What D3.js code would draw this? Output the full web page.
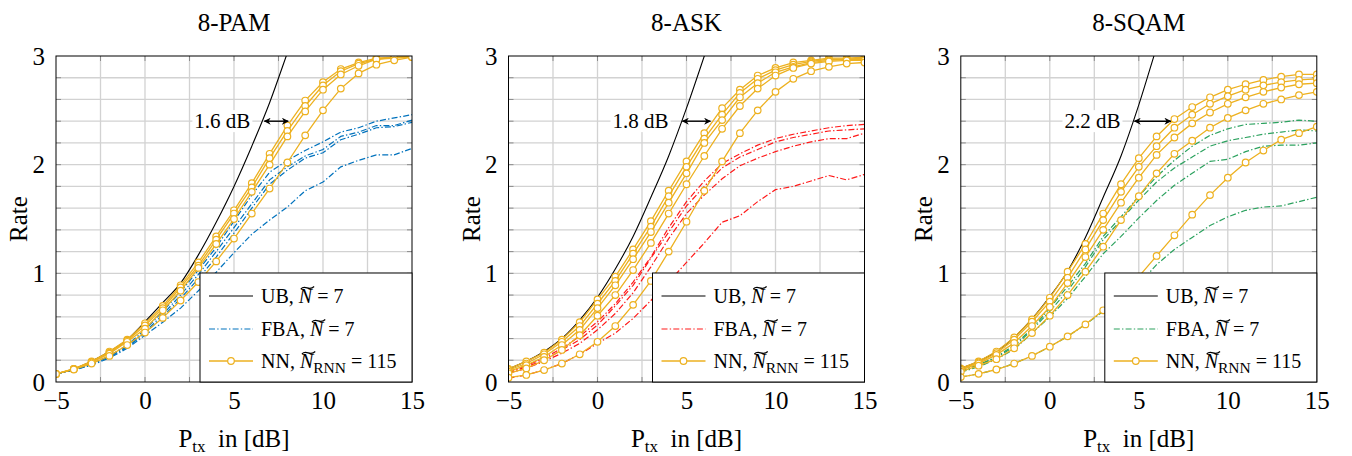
<!DOCTYPE html>
<html>
<head>
<meta charset="utf-8">
<script src="https://cdn.jsdelivr.net/npm/d3@7"></script>
<style>
  body { margin: 0; background: #fff; }
  svg, svg text { font-family: 'Liberation Serif', Tinos, 'Times New Roman', Times, 'DejaVu Serif', serif; }
</style>
</head>
<body>
<svg id="chart" width="1352" height="456"></svg>
<script>
const width = 1352
const height = 456
const serif = "'Liberation Serif', Tinos, 'Times New Roman', Times, 'DejaVu Serif', serif"

// transmit power grid (dB) used by every measured curve
const ptx = [-5, -4, -3, -2, -1, 0, 1, 2, 3, 4, 5, 6, 7, 8, 9, 10, 11, 12, 13, 14, 15]

const titles = ['8-PAM', '8-ASK', '8-SQAM']
const gapLabels = ['1.6 dB', '1.8 dB', '2.2 dB']
// arrow from UB to best NN curve at rate 2.4
const gapStart = [6.65, 4.72, 4.70]
const gapEnd = [8.1, 6.4, 6.85]
const gapRate = 2.4

// upper bound, clipped at the top of the plot
const ubPtx = [-5, -4, -3, -2, -1, 0, 1, 2, 3, 4, 5, 6, 7, 8, 9]
const ubPam = [0.075, 0.12, 0.19, 0.28, 0.39, 0.555, 0.73, 0.91, 1.17, 1.47, 1.80, 2.17, 2.57, 3.03, 3.5]
const ubAsk = [0.12, 0.19, 0.28, 0.40, 0.57, 0.78, 1.04, 1.34, 1.70, 2.08, 2.52, 3.0, 3.5, 4.0, 4.5]
const ubSqam = [0.125, 0.19, 0.28, 0.41, 0.58, 0.785, 1.02, 1.33, 1.70, 2.08, 2.55, 3.08, 3.6, 4.1, 4.6]

const fbaPam = [
  [0.074, 0.115, 0.17, 0.24, 0.34, 0.48, 0.65, 0.83, 1.03, 1.24, 1.48, 1.72, 1.93, 2.04, 2.13, 2.21, 2.30, 2.34, 2.40, 2.43, 2.46],
  [0.074, 0.115, 0.165, 0.235, 0.33, 0.46, 0.62, 0.80, 0.99, 1.20, 1.42, 1.64, 1.86, 1.98, 2.08, 2.14, 2.26, 2.30, 2.36, 2.36, 2.41],
  [0.074, 0.11, 0.16, 0.23, 0.32, 0.45, 0.60, 0.77, 0.95, 1.15, 1.37, 1.60, 1.82, 1.95, 2.06, 2.11, 2.23, 2.28, 2.34, 2.35, 2.39],
  [0.074, 0.11, 0.155, 0.22, 0.31, 0.43, 0.55, 0.68, 0.84, 1.01, 1.19, 1.36, 1.49, 1.61, 1.76, 1.84, 1.98, 2.04, 2.09, 2.09, 2.15]
]
const nnPam = [
  [0.074, 0.12, 0.19, 0.28, 0.39, 0.54, 0.70, 0.89, 1.10, 1.34, 1.58, 1.83, 2.10, 2.36, 2.59, 2.76, 2.88, 2.94, 2.98, 2.99, 2.995],
  [0.074, 0.12, 0.185, 0.27, 0.38, 0.52, 0.68, 0.87, 1.07, 1.31, 1.55, 1.79, 2.06, 2.31, 2.54, 2.73, 2.86, 2.93, 2.97, 2.99, 2.99],
  [0.074, 0.118, 0.18, 0.26, 0.37, 0.49, 0.66, 0.84, 1.05, 1.27, 1.50, 1.75, 2.00, 2.26, 2.49, 2.69, 2.83, 2.91, 2.97, 2.98, 2.99],
  [0.074, 0.115, 0.17, 0.24, 0.34, 0.455, 0.59, 0.75, 0.92, 1.11, 1.32, 1.55, 1.78, 2.02, 2.27, 2.50, 2.70, 2.84, 2.92, 2.96, 2.99]
]

const fbaAsk = [
  [0.095, 0.15, 0.22, 0.31, 0.42, 0.555, 0.72, 0.92, 1.15, 1.42, 1.66, 1.85, 2.01, 2.10, 2.18, 2.24, 2.28, 2.31, 2.34, 2.36, 2.37],
  [0.085, 0.14, 0.20, 0.295, 0.39, 0.525, 0.70, 0.89, 1.14, 1.38, 1.62, 1.80, 1.97, 2.07, 2.14, 2.21, 2.25, 2.28, 2.31, 2.32, 2.33],
  [0.08, 0.125, 0.19, 0.265, 0.355, 0.48, 0.63, 0.82, 1.06, 1.32, 1.55, 1.72, 1.87, 1.99, 2.06, 2.12, 2.17, 2.21, 2.24, 2.24, 2.29],
  [0.035, 0.065, 0.11, 0.17, 0.255, 0.355, 0.45, 0.585, 0.75, 0.92, 1.10, 1.28, 1.47, 1.53, 1.66, 1.77, 1.80, 1.85, 1.90, 1.86, 1.91]
]
const nnAsk = [
  [0.12, 0.19, 0.27, 0.39, 0.55, 0.76, 0.97, 1.22, 1.48, 1.76, 2.03, 2.29, 2.52, 2.69, 2.82, 2.89, 2.94, 2.96, 2.98, 2.98, 2.99],
  [0.11, 0.17, 0.255, 0.37, 0.515, 0.72, 0.93, 1.18, 1.43, 1.71, 1.98, 2.24, 2.46, 2.66, 2.79, 2.87, 2.92, 2.95, 2.97, 2.97, 2.98],
  [0.095, 0.155, 0.23, 0.34, 0.48, 0.68, 0.89, 1.13, 1.38, 1.65, 1.92, 2.20, 2.41, 2.62, 2.75, 2.85, 2.90, 2.94, 2.96, 2.97, 2.97],
  [0.08, 0.125, 0.20, 0.295, 0.43, 0.61, 0.80, 1.03, 1.28, 1.55, 1.82, 2.08, 2.33, 2.54, 2.70, 2.82, 2.89, 2.93, 2.95, 2.96, 2.96],
  [0.04, 0.065, 0.11, 0.17, 0.255, 0.37, 0.515, 0.71, 0.93, 1.20, 1.475, 1.76, 2.03, 2.29, 2.50, 2.67, 2.79, 2.86, 2.90, 2.93, 2.94]
]

const fbaSqam = [
  [0.10, 0.16, 0.23, 0.34, 0.49, 0.68, 0.88, 1.09, 1.34, 1.52, 1.71, 1.89, 2.04, 2.17, 2.27, 2.33, 2.37, 2.38, 2.39, 2.41, 2.40],
  [0.10, 0.155, 0.225, 0.325, 0.48, 0.65, 0.84, 1.06, 1.31, 1.49, 1.675, 1.84, 1.97, 2.07, 2.17, 2.22, 2.25, 2.28, 2.30, 2.32, 2.31],
  [0.09, 0.14, 0.21, 0.30, 0.45, 0.60, 0.77, 0.97, 1.18, 1.34, 1.51, 1.67, 1.81, 1.92, 2.03, 2.05, 2.12, 2.17, 2.18, 2.18, 2.20],
  [0.045, 0.075, 0.115, 0.17, 0.24, 0.325, 0.42, 0.53, 0.65, 0.78, 0.90, 1.08, 1.22, 1.33, 1.44, 1.52, 1.58, 1.61, 1.62, 1.66, 1.70]
]
const nnSqam = [
  [0.125, 0.19, 0.28, 0.41, 0.575, 0.775, 1.015, 1.27, 1.55, 1.82, 2.06, 2.26, 2.42, 2.53, 2.62, 2.69, 2.74, 2.78, 2.81, 2.83, 2.83],
  [0.115, 0.18, 0.265, 0.39, 0.555, 0.74, 0.96, 1.22, 1.49, 1.75, 1.98, 2.17, 2.34, 2.46, 2.56, 2.63, 2.69, 2.73, 2.76, 2.78, 2.79],
  [0.11, 0.17, 0.25, 0.36, 0.515, 0.69, 0.91, 1.15, 1.40, 1.65, 1.88, 2.09, 2.25, 2.38, 2.48, 2.56, 2.62, 2.67, 2.71, 2.74, 2.75],
  [0.095, 0.15, 0.21, 0.31, 0.45, 0.61, 0.80, 1.015, 1.245, 1.49, 1.71, 1.92, 2.10, 2.22, 2.34, 2.43, 2.50, 2.56, 2.60, 2.64, 2.67],
  [0.045, 0.075, 0.115, 0.17, 0.24, 0.325, 0.42, 0.53, 0.66, 0.79, 0.97, 1.16, 1.35, 1.54, 1.72, 1.88, 2.02, 2.13, 2.23, 2.29, 2.35]
]

const xTickValues = [-5, 0, 5, 10, 15]
const xGridValues = [-2.5, 0, 2.5, 5, 7.5, 10, 12.5]
const yTickValues = [0, 1, 2, 3]
const yGridValues = [0.2, 0.4, 0.6, 0.8, 1, 1.2, 1.4, 1.6, 1.8, 2, 2.2, 2.4, 2.6, 2.8]

const fbaColors = ['#0072BD', '#FF1A1A', '#2CA25F']
const nnColor = '#EDB120'

const ubData = [ubPam, ubAsk, ubSqam]
const fbaData = [fbaPam, fbaAsk, fbaSqam]
const nnData = [nnPam, nnAsk, nnSqam]

const plotW = 356
const plotTop = 56
const plotBottom = 382
const panelLeft = [56, 508.5, 960.8]
const dashDot = '6,2.2,1.4,2.2'

const svg = d3.select('#chart').attr('font-family', serif)

const defs = svg.append('defs')
defs.append('marker')
  .attr('id', 'arrowhead')
  .attr('viewBox', '0 0 10 10')
  .attr('refX', 9).attr('refY', 5)
  .attr('markerWidth', 7).attr('markerHeight', 7)
  .attr('markerUnits', 'userSpaceOnUse')
  .attr('orient', 'auto-start-reverse')
  .append('path')
  .attr('d', 'M0,0 L10,5 L0,10 L3,5 Z')
  .attr('fill', 'black')

// italic N with wide tilde, placed after the text is laid out
function addTilde(textSel, idx) {
  const node = textSel.node()
  const s = node.getStartPositionOfChar(idx)
  const e = node.getEndPositionOfChar(idx)
  const x0 = s.x + 2, x1 = e.x + 2, w = x1 - x0
  const b = s.y - 16
  d3.select(node.parentNode).append('path')
    .attr('d', `M${x0},${b + 2} C${x0 + w * 0.35},${b - 3} ${x0 + w * 0.6},${b + 5} ${x1},${b - 0.5}`)
    .attr('fill', 'none')
    .attr('stroke', 'black')
    .attr('stroke-width', 1.1)
}

titles.forEach((title, p) => {
  const left = panelLeft[p]
  const x = d3.scaleLinear().domain([-5, 15]).range([left, left + plotW])
  const y = d3.scaleLinear().domain([0, 3]).range([plotBottom, plotTop])
  const g = svg.append('g')

  const clipId = 'clip' + p
  defs.append('clipPath').attr('id', clipId)
    .append('rect')
    .attr('x', left).attr('y', plotTop)
    .attr('width', plotW).attr('height', plotBottom - plotTop)

  // grid
  g.append('g').selectAll('line').data(xGridValues).join('line')
    .attr('x1', d => x(d)).attr('x2', d => x(d))
    .attr('y1', plotTop).attr('y2', plotBottom)
    .attr('stroke', '#d2d2d2').attr('stroke-width', 1.3)
  g.append('g').selectAll('line').data(yGridValues).join('line')
    .attr('y1', d => y(d)).attr('y2', d => y(d))
    .attr('x1', left).attr('x2', left + plotW)
    .attr('stroke', '#d2d2d2').attr('stroke-width', 1.3)

  // small inner ticks
  const tk = g.append('g').attr('stroke', '#8c8c8c').attr('stroke-width', 1)
  tk.selectAll('.yl').data(yGridValues).join('line')
    .attr('x1', left).attr('x2', left + 5).attr('y1', d => y(d)).attr('y2', d => y(d))
  tk.selectAll('.yr').data(yGridValues).join('line')
    .attr('x1', left + plotW - 5).attr('x2', left + plotW).attr('y1', d => y(d)).attr('y2', d => y(d))
  tk.selectAll('.xb').data(xGridValues).join('line')
    .attr('x1', d => x(d)).attr('x2', d => x(d)).attr('y1', plotBottom).attr('y2', plotBottom - 5)
  tk.selectAll('.xt').data(xGridValues).join('line')
    .attr('x1', d => x(d)).attr('x2', d => x(d)).attr('y1', plotTop).attr('y2', plotTop + 5)

  const curves = g.append('g').attr('clip-path', `url(#${clipId})`)
  const line = d3.line().x((d, i) => x(ptx[i])).y(d => y(d))

  // FBA dash-dot curves
  curves.append('g').selectAll('path').data(fbaData[p]).join('path')
    .attr('d', line)
    .attr('fill', 'none')
    .attr('stroke', fbaColors[p])
    .attr('stroke-width', 1.2)
    .attr('stroke-dasharray', dashDot)

  // upper bound
  const ubLine = d3.line().x((d, i) => x(ubPtx[i])).y(d => y(d)).curve(d3.curveMonotoneX)
  curves.append('path')
    .attr('d', ubLine(ubData[p]))
    .attr('fill', 'none')
    .attr('stroke', 'black')
    .attr('stroke-width', 1.1)

  // NN curves with open circles
  nnData[p].forEach(series => {
    const sg = curves.append('g')
    sg.append('path')
      .attr('d', line(series))
      .attr('fill', 'none')
      .attr('stroke', nnColor)
      .attr('stroke-width', 1.3)
    sg.selectAll('circle').data(series).join('circle')
      .attr('cx', (d, i) => x(ptx[i]))
      .attr('cy', d => y(d))
      .attr('r', 3.3)
      .attr('fill', 'white')
      .attr('stroke', nnColor)
      .attr('stroke-width', 1.2)
  })

  // gap annotation
  const lbl = g.append('text')
    .attr('x', x(gapStart[p]) - 13)
    .attr('y', y(gapRate))
    .attr('dy', '0.33em')
    .attr('text-anchor', 'end')
    .attr('font-size', 21)
    .text(gapLabels[p])
  const bb = lbl.node().getBBox()
  g.insert('rect', () => lbl.node())
    .attr('x', bb.x - 2).attr('y', bb.y + 1)
    .attr('width', bb.width + 4).attr('height', bb.height - 2)
    .attr('fill', 'white')
  g.append('line')
    .attr('x1', x(gapStart[p]) + 1).attr('x2', x(gapEnd[p]) - 1)
    .attr('y1', y(gapRate)).attr('y2', y(gapRate))
    .attr('stroke', 'black').attr('stroke-width', 1.4)
    .attr('marker-start', 'url(#arrowhead)')
    .attr('marker-end', 'url(#arrowhead)')

  // frame
  g.append('rect')
    .attr('x', left).attr('y', plotTop)
    .attr('width', plotW).attr('height', plotBottom - plotTop)
    .attr('fill', 'none').attr('stroke', 'black').attr('stroke-width', 1)

  // tick labels via d3 axes
  const xa = g.append('g')
    .attr('transform', `translate(0,${plotBottom})`)
    .call(d3.axisBottom(x).tickValues(xTickValues).tickSize(0).tickPadding(9))
  xa.select('.domain').remove()
  xa.attr('font-family', serif).attr('font-size', 25)
  xa.selectAll('text').attr('fill', 'black')

  const ya = g.append('g')
    .attr('transform', `translate(${left},0)`)
    .call(d3.axisLeft(y).tickValues(yTickValues).tickFormat(d3.format('d')).tickSize(0).tickPadding(11))
  ya.select('.domain').remove()
  ya.attr('font-family', serif).attr('font-size', 25)
  ya.selectAll('text').attr('fill', 'black')

  // titles
  g.append('text')
    .attr('x', left + plotW / 2).attr('y', 31)
    .attr('text-anchor', 'middle').attr('font-size', 25)
    .text(title)
  g.append('text')
    .attr('transform', `translate(${left - 29},${(plotTop + plotBottom) / 2}) rotate(-90)`)
    .attr('text-anchor', 'middle').attr('font-size', 25)
    .text('Rate')
  const xl = g.append('text')
    .attr('x', left + plotW / 2).attr('y', 447)
    .attr('text-anchor', 'middle').attr('font-size', 25)
  xl.append('tspan').text('P')
  xl.append('tspan').attr('font-size', 17).attr('dy', 5).text('tx')
  xl.append('tspan').attr('dy', -5).text('\u2002in [dB]')

  // legend
  const L = left + plotW - 212
  const T = plotBottom - 109
  const lg = g.append('g')
  lg.append('rect')
    .attr('x', L).attr('y', T).attr('width', 212).attr('height', 109)
    .attr('fill', 'white').attr('stroke', 'black').attr('stroke-width', 1)
  const rows = [23, 56, 88]
  lg.append('line').attr('x1', L + 9).attr('x2', L + 53).attr('y1', T + rows[0]).attr('y2', T + rows[0])
    .attr('stroke', 'black').attr('stroke-width', 1.1)
  lg.append('line').attr('x1', L + 9).attr('x2', L + 53).attr('y1', T + rows[1]).attr('y2', T + rows[1])
    .attr('stroke', fbaColors[p]).attr('stroke-width', 1.2).attr('stroke-dasharray', dashDot)
  lg.append('line').attr('x1', L + 9).attr('x2', L + 53).attr('y1', T + rows[2]).attr('y2', T + rows[2])
    .attr('stroke', nnColor).attr('stroke-width', 1.3)
  lg.append('circle').attr('cx', L + 31).attr('cy', T + rows[2]).attr('r', 3.3)
    .attr('fill', 'white').attr('stroke', nnColor).attr('stroke-width', 1.2)

  const entries = [['UB, ', ' = 7', 4], ['FBA, ', ' = 7', 5], ['NN, ', null, 4]]
  entries.forEach((e, k) => {
    const t = lg.append('text')
      .attr('x', L + 61).attr('y', T + rows[k] + 7)
      .attr('font-size', 20)
    t.append('tspan').text(e[0])
    t.append('tspan').attr('font-style', 'italic').text('N')
    if (e[1]) {
      t.append('tspan').text(e[1])
    } else {
      t.append('tspan').attr('font-size', 15.5).attr('dy', 5).text('RNN')
      t.append('tspan').attr('dy', -5).text(' = 115')
    }
    addTilde(t, e[2])
  })
})
</script>
</body>
</html>
